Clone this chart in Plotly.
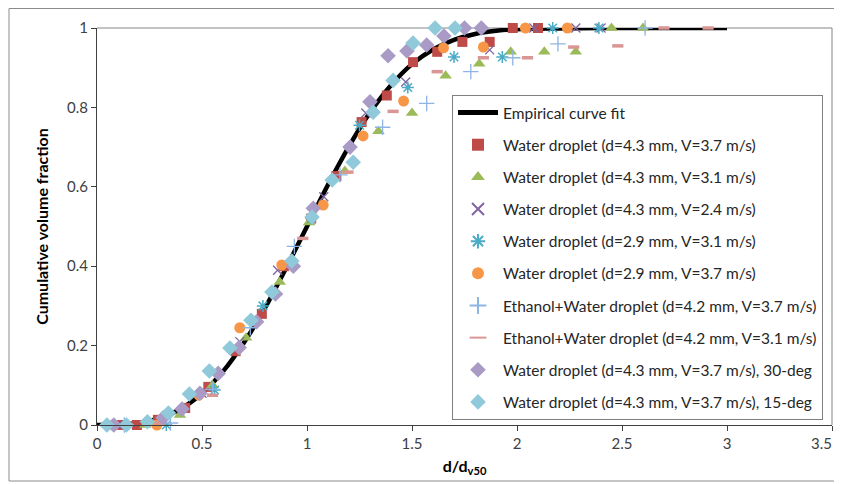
import plotly.graph_objects as go

# ---- data ----
curve_x = [0, 0.1, 0.2, 0.3, 0.4, 0.5, 0.6, 0.7, 0.8, 0.9, 1.0, 1.1, 1.2, 1.3, 1.4, 1.5,
           1.6, 1.7, 1.8, 1.9, 2.0, 2.2, 2.4, 2.6, 2.8, 3.0]
curve_y = [0, 0.001, 0.005, 0.017, 0.041, 0.080, 0.135, 0.208, 0.295, 0.395, 0.5, 0.605,
           0.702, 0.787, 0.856, 0.909, 0.946, 0.970, 0.985, 0.993, 0.997, 0.999, 1.0, 1.0, 1.0, 1.0]

red_x = [0.12, 0.19, 0.29, 0.42, 0.53, 0.66, 0.785, 0.89, 1.02, 1.14, 1.26, 1.38, 1.505, 1.62, 1.74, 1.87, 1.98, 2.10]
red_y = [0, 0, 0.013, 0.043, 0.096, 0.186, 0.28, 0.40, 0.52, 0.627, 0.763, 0.83, 0.914, 0.94, 0.965, 0.965, 1.0, 1.0]

green_x = [0.23, 0.395, 0.55, 0.71, 0.87, 1.01, 1.18, 1.34, 1.50, 1.66, 1.82, 1.97, 2.13, 2.28, 2.45, 2.60]
green_y = [0, 0.025, 0.10, 0.22, 0.36, 0.51, 0.64, 0.74, 0.786, 0.88, 0.91, 0.94, 0.94, 0.94, 1.0, 1.0]

xmark_x = [0.10, 0.30, 0.50, 0.68, 0.86, 1.08, 1.28, 1.47, 1.87, 2.08, 2.28, 2.40]
xmark_y = [0, 0.01, 0.08, 0.21, 0.39, 0.575, 0.786, 0.864, 0.945, 1.0, 1.0, 1.0]

ast_x = [0.33, 0.56, 0.79, 1.02, 1.25, 1.48, 1.70, 1.93, 2.17, 2.39]
ast_y = [0, 0.088, 0.30, 0.52, 0.755, 0.85, 0.927, 0.927, 1.0, 1.0]

orange_x = [0.08, 0.285, 0.485, 0.68, 0.88, 1.077, 1.267, 1.46, 1.65, 1.84, 2.04, 2.24]
orange_y = [0, 0, 0.075, 0.245, 0.403, 0.554, 0.728, 0.816, 0.95, 0.952, 1.0, 1.0]

plus_x = [0.13, 0.35, 0.55, 0.73, 0.94, 1.157, 1.36, 1.57, 1.78, 1.98, 2.195, 2.61]
plus_y = [0, 0.005, 0.09, 0.245, 0.45, 0.63, 0.75, 0.81, 0.89, 0.925, 0.96, 1.0]

dash_x = [0.30, 0.55, 0.98, 1.195, 1.41, 1.62, 1.84, 2.05, 2.27, 2.48, 2.70, 2.91]
dash_y = [0.005, 0.075, 0.47, 0.637, 0.79, 0.89, 0.925, 0.925, 0.952, 0.955, 1.0, 1.0]

pdia_x = [0.08, 0.315, 0.405, 0.49, 0.577, 0.677, 0.76, 0.85, 0.935, 1.03, 1.205, 1.30, 1.386,
          1.476, 1.57, 1.652, 1.75, 1.83]
pdia_y = [0, 0.018, 0.04, 0.08, 0.13, 0.195, 0.26, 0.33, 0.40, 0.546, 0.70, 0.814, 0.93,
          0.942, 0.957, 0.98, 1.0, 1.0]

cdia_x = [0.047, 0.14, 0.24, 0.34, 0.44, 0.535, 0.633, 0.733, 0.833, 0.928, 1.024, 1.12, 1.22,
          1.315, 1.41, 1.505, 1.61, 1.705]
cdia_y = [0, 0, 0.008, 0.03, 0.078, 0.136, 0.194, 0.264, 0.335, 0.413, 0.524, 0.617, 0.662,
          0.788, 0.868, 0.962, 1.0, 1.0]

x_ticks = [0, 0.5, 1, 1.5, 2, 2.5, 3, 3.5]
x_ticktext = ["0", "0.5", "1", "1.5", "2", "2.5", "3", "3.5"]
y_ticks = [0, 0.2, 0.4, 0.6, 0.8, 1]
y_ticktext = ["0", "0.2", "0.4", "0.6", "0.8", "1"]

names = [
    "Empirical curve fit",
    "Water droplet (d=4.3 mm, V=3.7 m/s)",
    "Water droplet (d=4.3 mm, V=3.1 m/s)",
    "Water droplet (d=4.3 mm, V=2.4 m/s)",
    "Water droplet (d=2.9 mm, V=3.1 m/s)",
    "Water droplet (d=2.9 mm, V=3.7 m/s)",
    "Ethanol+Water droplet (d=4.2 mm, V=3.7 m/s)",
    "Ethanol+Water droplet (d=4.2 mm, V=3.1 m/s)",
    "Water droplet (d=4.3 mm, V=3.7 m/s), 30-deg",
    "Water droplet (d=4.3 mm, V=3.7 m/s), 15-deg",
]

FONT = "Lato"
fig = go.Figure()

fig.add_trace(go.Scatter(x=curve_x, y=curve_y, mode="lines", name=names[0],
                         line=dict(color="black", width=4.5, shape="spline"),
                         legendgroup="g0", cliponaxis=False))

def add_markers(x, y, name, grp, symbol, size, color, line_color=None, line_width=0):
    fig.add_trace(go.Scatter(
        x=x, y=y, mode="markers", name=name, legendgroup=grp, cliponaxis=False,
        marker=dict(symbol=symbol, size=size, color=color,
                    line=dict(color=line_color if line_color else color, width=line_width))))

add_markers(red_x, red_y, names[1], "g1", "square", 10, "#BE4B48")
add_markers(green_x, green_y, names[2], "g2", "triangle-up", 11, "#9BBB59")
add_markers(xmark_x, xmark_y, names[3], "g3", "x-thin-open", 9, "#8064A2", "#8064A2", 1.3)
add_markers(ast_x, ast_y, names[4], "g4", "asterisk-open", 10, "#4BACC6", "#4BACC6", 1.5)
add_markers(orange_x, orange_y, names[5], "g5", "circle", 11, "#F79646")
add_markers(plus_x, plus_y, names[6], "g6", "cross-thin-open", 11, "#8EB4E3", "#8EB4E3", 1.3)
add_markers(dash_x, dash_y, names[7], "g7", "line-ew-open", 8, "#D99694", "#D99694", 3.5)
add_markers(pdia_x, pdia_y, names[8], "g8", "diamond", 12, "#A99BC6")
add_markers(cdia_x, cdia_y, names[9], "g9", "diamond", 12, "#8FC9DA")

# page has an 8px body margin, so the figure is 8px smaller and positions shifted by -8
W, H = 834, 476
L, R, T, B = 89, 10, 20, 59
pw, ph = W - L - R, H - T - B

def px_to_paper_x(px):
    return (px - L) / pw

def px_to_paper_y(py):
    return (H - B - py) / ph

shapes = [
    # outer chart border
    dict(type="rect", xref="paper", yref="paper",
         x0=px_to_paper_x(1), x1=px_to_paper_x(831), y0=px_to_paper_y(473), y1=px_to_paper_y(0.5),
         line=dict(color="#8C8C8C", width=1), fillcolor="rgba(0,0,0,0)", layer="below"),
    # plot area top/right border
    dict(type="line", xref="paper", yref="paper", x0=0, x1=1, y0=1, y1=1,
         line=dict(color="#868686", width=1), layer="below"),
    dict(type="line", xref="paper", yref="paper", x0=1, x1=1, y0=0, y1=1,
         line=dict(color="#868686", width=1), layer="below"),
]

# last tick label is right-aligned to its tick so it stays inside the chart (as in the reference)
axis_ticktext = x_ticktext[:-1] + [""]
annotations = [
    dict(text=x_ticktext[-1], x=x_ticks[-1], xref="x", y=0, yref="paper",
         xanchor="right", yanchor="top", xshift=2, yshift=-7, showarrow=False,
         font=dict(family=FONT, size=15, color="#404040")),
]

fig.update_layout(
    width=W, height=H,
    margin=dict(l=L, r=R, t=T, b=B, autoexpand=False),
    paper_bgcolor="white", plot_bgcolor="white",
    font=dict(family=FONT, size=15, color="#404040"),
    showlegend=True,
    legend=dict(x=px_to_paper_x(444), y=px_to_paper_y(87), xanchor="left", yanchor="top",
                bgcolor="white", bordercolor="#808080", borderwidth=1,
                font=dict(family=FONT, size=15.5, color="#262626"),
                tracegroupgap=9, traceorder="grouped", itemwidth=40, itemsizing="constant"),
    xaxis=dict(range=[0, 3.5], tickvals=x_ticks, ticktext=axis_ticktext,
               showgrid=False, zeroline=False, showline=True, linecolor="#404040", linewidth=1,
               ticks="outside", ticklen=5, tickcolor="#404040", automargin=False,
               tickfont=dict(family=FONT, size=15, color="#404040"),
               title=dict(text="<b>d/d<sub>v50</sub></b>", font=dict(family=FONT, size=16, color="black"),
                          standoff=9)),
    yaxis=dict(range=[0, 1], tickvals=y_ticks, ticktext=y_ticktext,
               showgrid=False, zeroline=False, showline=True, linecolor="#404040", linewidth=1,
               ticks="outside", ticklen=5, tickcolor="#404040", automargin=False,
               tickfont=dict(family=FONT, size=15, color="#404040"),
               title=dict(text="<b>Cumulative volume fraction</b>",
                          font=dict(family=FONT, size=16, color="black"), standoff=14)),
    shapes=shapes,
    annotations=annotations,
)

fig.write_html("out.html")
